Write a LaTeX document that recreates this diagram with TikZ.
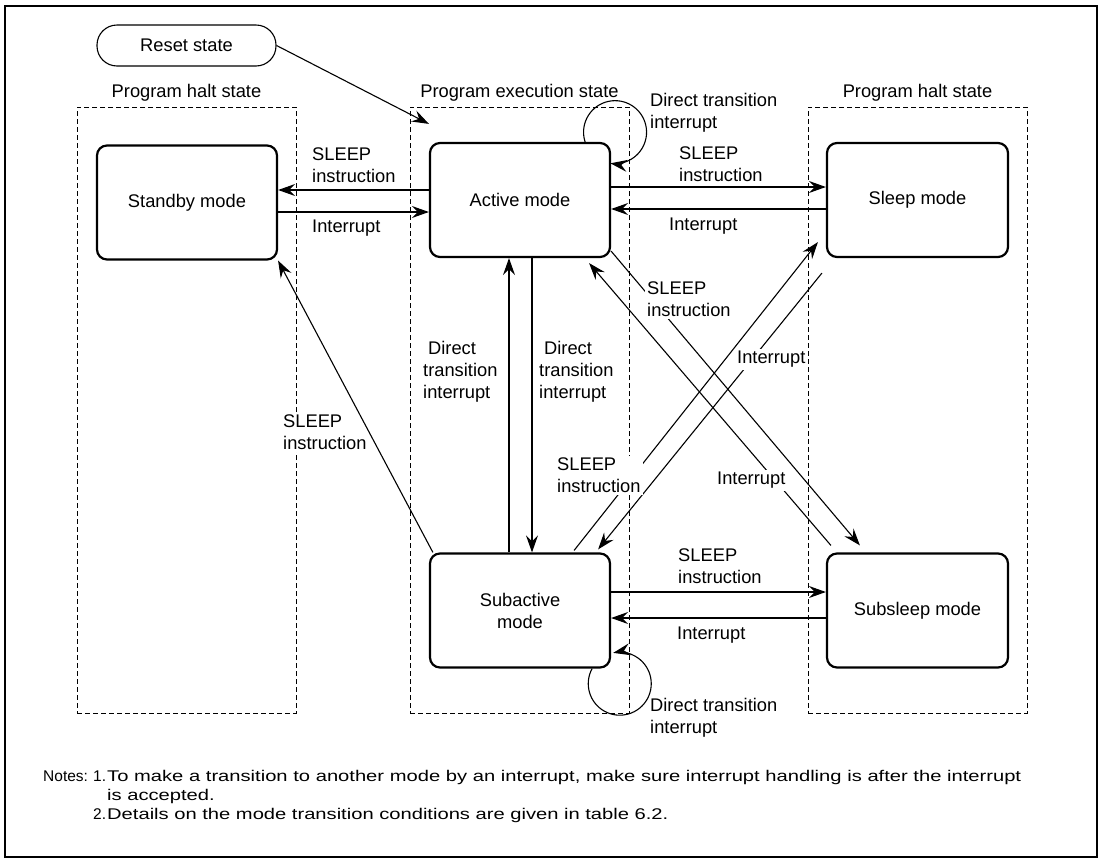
\documentclass[tikz,border=0pt]{standalone}
\usepackage{fontspec}
\setmainfont{Liberation Sans}
\newfontfamily\notewide[FakeStretch=1.3]{Liberation Sans}
\usetikzlibrary{arrows.meta,calc}
\newcommand\lblfont{\fontsize{18.3}{22}\selectfont}
\newcommand\notefont{\fontsize{15.5}{19}\selectfont}
\begin{document}
\begin{tikzpicture}[x=1pt,y=-1pt,
  modebox/.style={draw,line width=2.2pt,rounded corners=10pt,minimum width=180pt,minimum height=114pt,inner sep=0pt,align=center,font=\lblfont},
  resetbox/.style={draw,line width=1.1pt,rounded corners=20pt,minimum width=179pt,minimum height=41pt,inner sep=0pt,font=\lblfont},
  dbox/.style={draw,line width=1pt,dash pattern=on 5pt off 3pt,minimum width=219pt,minimum height=606pt,inner sep=0pt},
  lbl/.style={inner sep=0pt,align=left,font=\lblfont,anchor=north west},
  flbl/.style={inner sep=2pt,align=left,font=\lblfont,anchor=north west,fill=white},
  ttl/.style={inner sep=0pt,font=\lblfont,anchor=base},
  note/.style={inner sep=0pt,font=\notefont,anchor=base west},
  wnote/.style={inner sep=0pt,font=\notewide\notefont,anchor=base west},
  arr/.style={line width=1.1pt,-{Stealth[length=17pt,width=12pt,inset=6pt]}}]
\useasboundingbox (0,0) rectangle (1103,860);
\draw[line width=2pt] (5,6) rectangle (1097,857);
% state regions
\node[dbox] (hl) at (186.5,410) {};
\node[dbox] (ex) at (519.5,410) {};
\node[dbox] (hr) at (917.5,410) {};
\node[ttl] (thl) at (186.5,97) {Program halt state};
\node[ttl] (tex) at (519.5,97) {Program execution state};
\node[ttl] (thr) at (917.5,97) {Program halt state};
\node[flbl] (l12) at (281,413) {SLEEP\\instruction};
% modes
\node[resetbox] (reset) at (186.5,45.5) {Reset state};
\node[modebox] (standby) at (187,202.5) {Standby mode};
\node[modebox] (active) at (520,200) {Active mode};
\node[modebox,minimum width=181pt] (sleep) at (917.5,200) {Sleep mode};
\node[modebox] (subact) at (520,610.5) {Subactive\\mode};
\node[modebox,minimum width=181pt] (subsleep) at (917.5,610.5) {Subsleep mode};
% transitions
\draw[arr] (reset.east) -- ([yshift=18pt]active.north west);
\draw[arr] ([yshift=10pt]active.west) -- ([yshift=12.5pt]standby.east);
\draw[arr] ([yshift=-9.5pt]standby.east) -- ([yshift=-12pt]active.west);
\draw[arr] ([yshift=13pt]active.east) -- ([yshift=13pt]sleep.west);
\draw[arr] ([yshift=-9pt]sleep.west) -- ([yshift=-9pt]active.east);
\draw[arr] ([yshift=18.5pt]subact.east) -- ([yshift=18.5pt]subsleep.west);
\draw[arr] ([yshift=-7.5pt]subsleep.west) -- ([yshift=-7.5pt]subact.east);
\draw[arr] ([xshift=-11pt]subact.north) -- ([xshift=-11pt]active.south);
\draw[arr] ([xshift=12pt]active.south) -- ([xshift=12pt]subact.north);
\draw[arr] ([xshift=4pt]subact.north west) -- (standby.south east);
\draw[arr] ([yshift=7pt]active.south east) -- ([shift={(34,-7)}]subsleep.north west);
\draw[arr] ([shift={(5,-7)}]subsleep.north west) -- ([shift={(-22,5)}]active.south east);
\draw[arr] ([shift={(-37,-2)}]subact.north east) -- ([shift={(-8,-16)}]sleep.south west);
\draw[arr] ([shift={(-4,15)}]sleep.south west) -- ([shift={(-13,-3)}]subact.north east);
\draw[arr] ([xshift=-26pt]active.north east) arc[start angle=162,end angle=458.5,radius=31.5];
\draw[arr] ([xshift=-19pt]subact.south east) arc[start angle=208.6,end angle=-102,radius=31.5];
% labels
\node[lbl] (l1) at (312,148) {SLEEP\\instruction};
\node[lbl] (l2) at (312,220) {Interrupt};
\node[lbl] (l3) at (679,147) {SLEEP\\instruction};
\node[lbl] (l4) at (669,218) {Interrupt};
\node[lbl] (l5) at (650,93) {Direct transition\\interrupt};
\node[lbl] (l6) at (423,341) {\hspace*{5pt}Direct\\transition\\interrupt};
\node[lbl] (l7) at (539,341) {\hspace*{5pt}Direct\\transition\\interrupt};
\node[flbl] (l8) at (645,280) {SLEEP\\instruction};
\node[flbl] (l9) at (715,470) {Interrupt};
\node[flbl] (l10) at (735,349) {Interrupt};
\node[flbl] (l11) at (555,456) {SLEEP\\instruction};
\node[lbl] (l13) at (678,549) {SLEEP\\instruction};
\node[lbl] (l14) at (677,627) {Interrupt};
\node[lbl] (l15) at (650,698) {Direct transition\\interrupt};
% notes
\node[note] (n0) at (43,781) {Notes:};
\node[note] (n1) at (93,781) {1.};
\node[wnote] (n1a) at (107,781) {\makebox[914pt][s]{To make a transition to another mode by an interrupt, make sure interrupt handling is after the interrupt}};
\node[wnote] (n1b) at (107,800) {is accepted.};
\node[note] (n2) at (93,819) {2.};
\node[wnote] (n2a) at (107,819) {Details on the mode transition conditions are given in table 6.2.};
\end{tikzpicture}
\end{document}
